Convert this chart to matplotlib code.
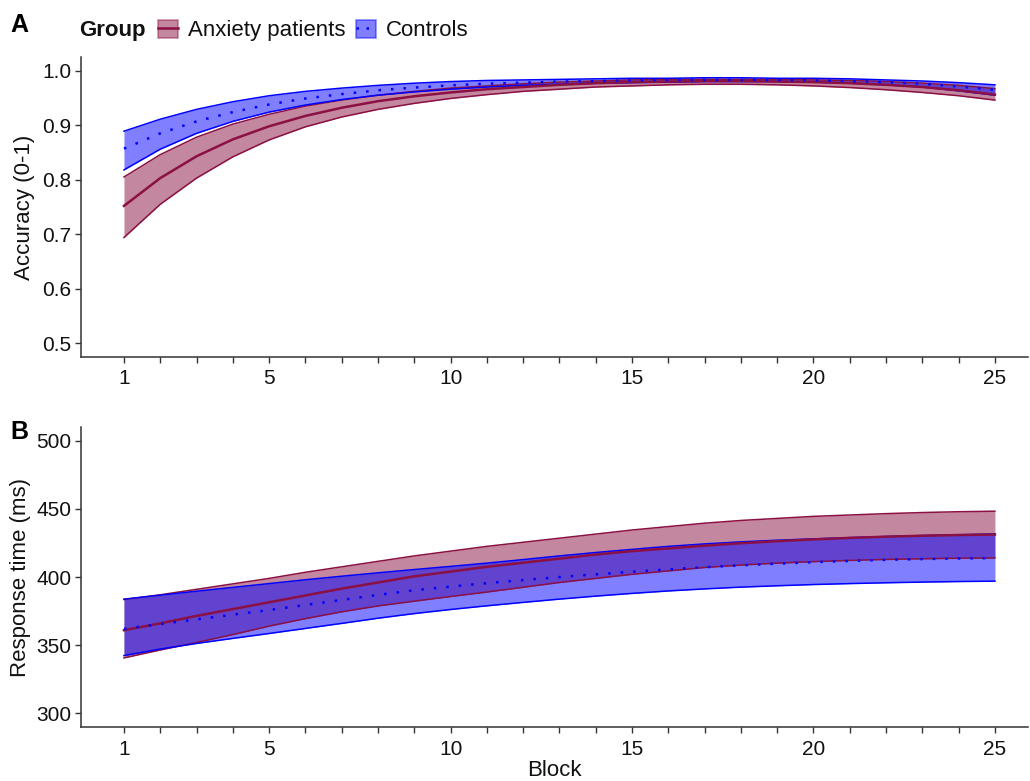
import matplotlib
matplotlib.use("Agg")
import matplotlib.pyplot as plt
from matplotlib.patches import Patch
from matplotlib.lines import Line2D

plt.rcParams['font.family'] = ['Liberation Sans', 'DejaVu Sans']

blocks = list(range(1, 26))

# Panel A: accuracy
acc_anx_mean = [0.752, 0.803, 0.843, 0.874, 0.898, 0.917, 0.932, 0.944, 0.953, 0.960, 0.966, 0.970,
                0.974, 0.977, 0.979, 0.980, 0.981, 0.981, 0.980, 0.979, 0.977, 0.974, 0.970, 0.964, 0.956]
acc_anx_low = [0.694, 0.755, 0.803, 0.842, 0.873, 0.897, 0.915, 0.929, 0.940, 0.949, 0.956, 0.962,
               0.966, 0.970, 0.972, 0.974, 0.975, 0.975, 0.974, 0.972, 0.969, 0.965, 0.960, 0.954, 0.946]
acc_anx_up = [0.805, 0.846, 0.878, 0.902, 0.920, 0.935, 0.946, 0.955, 0.962, 0.968, 0.972, 0.976,
              0.979, 0.981, 0.983, 0.984, 0.984, 0.984, 0.984, 0.983, 0.982, 0.980, 0.977, 0.973, 0.967]
acc_con_mean = [0.857, 0.885, 0.907, 0.924, 0.938, 0.949, 0.957, 0.964, 0.969, 0.973, 0.976, 0.978,
                0.980, 0.981, 0.982, 0.983, 0.983, 0.983, 0.983, 0.982, 0.981, 0.979, 0.976, 0.971, 0.965]
acc_con_low = [0.818, 0.856, 0.885, 0.907, 0.924, 0.937, 0.947, 0.955, 0.961, 0.966, 0.970, 0.973,
               0.975, 0.977, 0.978, 0.979, 0.980, 0.980, 0.980, 0.979, 0.977, 0.974, 0.970, 0.963, 0.955]
acc_con_up = [0.889, 0.911, 0.929, 0.943, 0.954, 0.962, 0.968, 0.973, 0.977, 0.980, 0.982, 0.983,
              0.984, 0.985, 0.986, 0.986, 0.987, 0.987, 0.986, 0.986, 0.985, 0.983, 0.981, 0.978, 0.974]

# Panel B: response time
rt_anx_mean = [361.0, 366.0, 371.5, 376.5, 381.5, 386.5, 391.5, 396.0, 400.5, 404.0, 407.5, 410.5,
               413.5, 416.5, 419.0, 421.0, 423.0, 424.8, 426.3, 427.6, 428.7, 429.6, 430.3, 430.8, 431.2]
rt_anx_low = [340.7, 346.5, 352.0, 357.8, 364.0, 369.5, 374.5, 378.8, 382.3, 385.7, 389.0, 392.5,
              396.0, 399.0, 402.0, 404.5, 407.0, 408.8, 410.2, 411.3, 412.2, 412.9, 413.4, 413.8, 414.0]
rt_anx_up = [383.5, 387.0, 391.0, 395.0, 399.0, 403.5, 407.5, 411.5, 415.5, 419.0, 422.5, 425.5,
             428.5, 431.5, 434.5, 437.0, 439.5, 441.5, 443.0, 444.5, 445.5, 446.5, 447.3, 447.9, 448.3]
rt_con_mean = [362.0, 365.5, 369.0, 372.4, 375.8, 379.5, 383.2, 386.9, 390.3, 393.0, 395.5, 397.8,
               400.0, 402.0, 403.9, 405.6, 407.2, 408.6, 409.8, 410.9, 411.8, 412.6, 413.2, 413.6, 413.9]
rt_con_low = [342.4, 347.2, 351.3, 355.0, 358.6, 362.3, 366.0, 369.8, 373.2, 376.2, 378.9, 381.4,
              383.8, 386.0, 388.0, 389.8, 391.3, 392.6, 393.6, 394.5, 395.2, 395.8, 396.3, 396.7, 397.0]
rt_con_up = [383.8, 386.7, 389.6, 392.4, 395.2, 398.0, 400.6, 403.1, 405.5, 407.8, 410.2, 412.8,
             415.5, 418.0, 420.3, 422.5, 424.3, 425.8, 427.0, 428.0, 428.9, 429.7, 430.4, 431.0, 431.6]

groups = ["Anxiety patients", "Controls"]
x_tick_labels = ["1", "5", "10", "15", "20", "25"]

ANX = "#8B1043"
CON = "#0000FF"
TXT = "#111111"
AX = "#333333"
TICK_FS = 15
LAB_FS = 16

fig = plt.figure(figsize=(10.30, 7.81), dpi=100)
axA = fig.add_axes([0.0786, 0.5429, 0.9194, 0.3841])
axB = fig.add_axes([0.0786, 0.0691, 0.9194, 0.3841])


def draw(ax, series):
    for (mean, low, up, col, ls) in series:
        ax.fill_between(blocks, low, up, color=col, alpha=0.5, lw=0, zorder=2)
        ax.plot(blocks, low, color=col, lw=1.1, zorder=3)
        ax.plot(blocks, up, color=col, lw=1.1, zorder=3)
    for (mean, low, up, col, ls) in series:
        if ls == "solid":
            ax.plot(blocks, mean, color=col, lw=1.8, zorder=4)
        else:
            ax.plot(blocks, mean, color=col, lw=1.8, ls=(0, (1, 4)), zorder=4)


draw(axA, [(acc_anx_mean, acc_anx_low, acc_anx_up, ANX, "solid"),
           (acc_con_mean, acc_con_low, acc_con_up, CON, "dotted")])
draw(axB, [(rt_anx_mean, rt_anx_low, rt_anx_up, ANX, "solid"),
           (rt_con_mean, rt_con_low, rt_con_up, CON, "dotted")])

for ax in (axA, axB):
    ax.set_xlim(-0.185, 25.91)
    ax.set_xticks(blocks)
    ax.set_xticklabels([str(b) if str(b) in x_tick_labels else "" for b in blocks])
    for s in ("top", "right"):
        ax.spines[s].set_visible(False)
    for s in ("left", "bottom"):
        ax.spines[s].set_color(AX)
        ax.spines[s].set_linewidth(1.1)
    ax.tick_params(axis="both", length=4, width=1.0, color=AX, labelsize=TICK_FS,
                   labelcolor=TXT, pad=3)
    ax.tick_params(axis="x", pad=5)

axA.set_ylim(0.475, 1.025)
axA.set_yticks([0.5, 0.6, 0.7, 0.8, 0.9, 1.0])
axA.set_yticklabels(["0.5", "0.6", "0.7", "0.8", "0.9", "1.0"])
axA.set_ylabel("Accuracy (0-1)", fontsize=LAB_FS, color=TXT, labelpad=5)

axB.set_ylim(290, 510)
axB.set_yticks([300, 350, 400, 450, 500])
axB.set_ylabel("Response time (ms)", fontsize=LAB_FS, color=TXT, labelpad=4)
axB.set_xlabel("Block", fontsize=LAB_FS, color=TXT, labelpad=1)

fig.text(0.0097, 0.968, "A", fontsize=18, fontweight="bold", color="black", va="center")
fig.text(0.0097, 0.447, "B", fontsize=18, fontweight="bold", color="black", va="center")

# Legend
fig.text(0.077, 0.961, "Group", fontsize=LAB_FS, fontweight="bold", color=TXT, va="center")
h_anx = (Patch(facecolor=ANX, alpha=0.5, edgecolor=ANX, lw=1.1), Line2D([0], [0], color=ANX, lw=1.8))
h_con = (Patch(facecolor=CON, alpha=0.5, edgecolor=CON, lw=1.1), Line2D([0], [0], color=CON, lw=1.8, ls=(0, (1, 3))))
fig.legend([h_anx, h_con], groups, loc="center left", bbox_to_anchor=(0.153, 0.961), ncol=2,
           frameon=False, fontsize=LAB_FS, handlelength=0.9, handleheight=0.9, handletextpad=0.45,
           columnspacing=0.5, borderaxespad=0, borderpad=0, labelcolor=TXT)

fig.savefig("out.png", dpi=100)
